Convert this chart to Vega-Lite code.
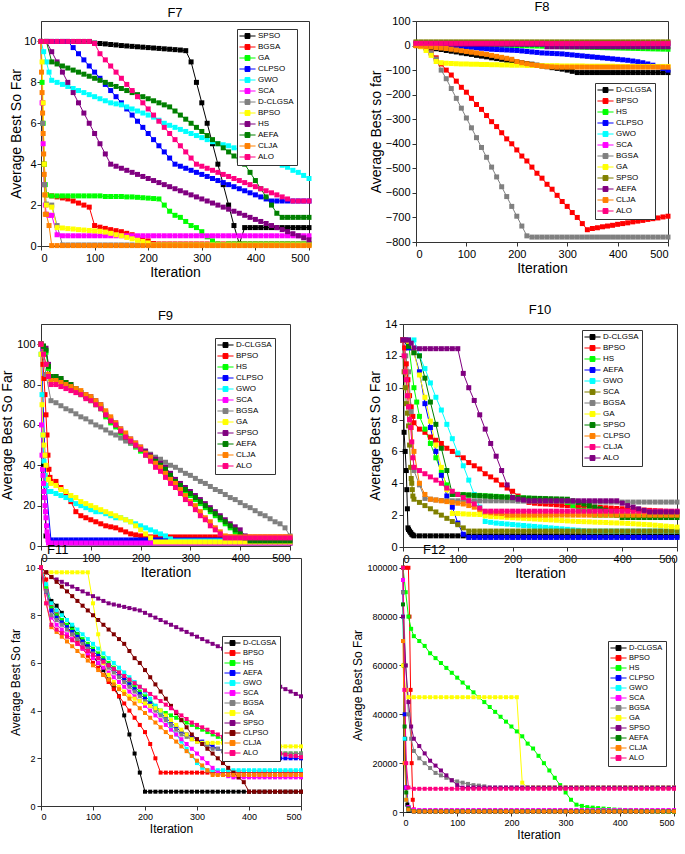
{
"$schema": "https://vega.github.io/schema/vega-lite/v6.json",
"background": "white",
"padding": 0,
"config": {
  "font": "Liberation Sans",
  "view": {"stroke": "#333", "strokeWidth": 1},
  "axis": {"labelFontSize": 11, "titleFontSize": 14, "titleFontWeight": "normal", "labelColor": "#000", "titleColor": "#000", "domainColor": "#333", "tickColor": "#333", "grid": false, "tickSize": 4, "labelPadding": 2, "titlePadding": 2, "labelFont": "Liberation Sans", "titleFont": "Liberation Sans"},
  "title": {"fontSize": 13, "fontWeight": "normal", "font": "Liberation Sans", "offset": 1},
  "legend": {"orient": "none", "title": null, "labelFontSize": 8, "labelFont": "Liberation Sans", "strokeColor": "#333", "fillColor": "#fff", "padding": 3, "rowPadding": 1, "symbolType": "M-1.3,0H3.3M0.3,-0.7H1.7V0.7H0.3Z", "symbolSize": 49, "symbolStrokeWidth": 1, "labelOffset": 10}
},
"spacing": 23,
"resolve": {"scale": {"color": "independent"}, "legend": {"color": "independent"}},
"vconcat": [
{
"spacing": 56,
"resolve": {"scale": {"color": "independent"}, "legend": {"color": "independent"}},
"hconcat": [
{
"title": "F7",
"width": 268, "height": 225,
"data": {"values": [
{"s":"SPSO","x":[0,10,20,30,40,50,60,70,80,90,100,110,120,130,140,150,160,170,180,190,200,210,220,230,240,250,260,270,280,290,300,310,320,330,340,350,360,370,380,390,400,410,420,430,440,450,460,470,480,490,500],"y":[10,10,10,10,10,10,10,10,10,10,9.92,9.9,9.88,9.85,9.83,9.8,9.78,9.76,9.74,9.72,9.7,9.68,9.66,9.64,9.62,9.6,9.58,9.55,9,8,7,6,5,4,3,2,1,0.1,0.9,0.9,0.9,0.9,0.9,0.9,0.9,0.9,0.9,0.9,0.9,0.9,0.9]},
{"s":"BGSA","x":[0,3,6,10,20,30,40,50,60,70,80,90,100,110,120,130,140,150,160,170,180,190,200,210,220,230,240,250,260,270,280,290,300,310,320,330,340,350,360,370,380,390,400,410,420,430,440,450,460,470,480,490,500],"y":[10,7,4,2.5,2.45,2.4,2.35,2.3,2.2,2.1,2.0,1.9,1.0,0.92,0.86,0.8,0.75,0.7,0.62,0.55,0.45,0.35,0.25,0.12,0.1,0.1,0.1,0.1,0.1,0.1,0.1,0.1,0.1,0.1,0.1,0.1,0.1,0.1,0.1,0.1,0.1,0.1,0.1,0.1,0.1,0.1,0.1,0.1,0.1,0.1,0.1,0.1,0.1]},
{"s":"GA","x":[0,2,4,6,8,10,20,30,40,50,60,70,80,90,100,110,120,130,140,150,160,170,180,190,200,210,220,230,240,250,260,270,280,290,300,310,320,330,340,350,360,370,380,390,400,410,420,430,440,450,460,470,480,490,500],"y":[10,8,6,4,3,2.5,2.45,2.45,2.45,2.45,2.45,2.45,2.45,2.45,2.45,2.45,2.42,2.42,2.42,2.42,2.4,2.4,2.38,2.36,2.34,2.32,2.3,2.0,1.7,1.5,1.4,1.2,1.0,0.9,0.7,0.45,0.25,0.1,0.05,0.1,0.1,0.1,0.1,0.1,0.1,0.1,0.1,0.1,0.1,0.1,0.1,0.1,0.1,0.1,0.1]},
{"s":"CLPSO","x":[0,10,20,30,40,50,60,70,80,90,100,110,120,130,140,150,160,170,180,190,200,210,220,230,240,250,260,270,280,290,300,310,320,330,340,350,360,370,380,390,400,410,420,430,440,450,460,470,480,490,500],"y":[10,10,10,10,10,10,9.7,9.4,9.1,8.8,8.5,8.2,7.9,7.6,7.3,7.0,6.7,6.4,6.1,5.8,5.5,5.2,4.9,4.6,4.3,4.0,3.9,3.8,3.7,3.6,3.5,3.4,3.3,3.2,3.1,3.0,2.9,2.8,2.7,2.6,2.5,2.4,2.3,2.2,2.2,2.2,2.2,2.2,2.2,2.2,2.2]},
{"s":"GWO","x":[0,5,10,15,20,30,40,50,60,70,80,90,100,110,120,130,140,150,160,170,180,190,200,210,220,230,240,250,260,270,280,290,300,310,320,330,340,350,360,370,380,390,400,410,420,430,440,450,460,470,480,490,500],"y":[10,9.5,9,8.5,8.1,8.0,7.9,7.8,7.7,7.6,7.5,7.4,7.3,7.2,7.1,7.0,6.95,6.9,6.8,6.7,6.6,6.5,6.4,6.3,6.15,6.0,5.9,5.8,5.7,5.6,5.5,5.4,5.3,5.2,5.1,5.0,4.95,4.9,4.8,4.7,4.6,4.5,4.45,4.35,4.25,4.15,4.05,3.95,3.85,3.7,3.6,3.45,3.3]},
{"s":"SCA","x":[0,2,4,6,8,10,15,20,30,40,50,60,70,80,90,100,110,120,130,140,150,160,170,180,190,200,210,220,230,240,250,260,270,280,290,300,310,320,330,340,350,360,370,380,390,400,410,420,430,440,450,460,470,480,490,500],"y":[10,7,5,3,2,1.55,1.5,1.5,0.55,0.5,0.5,0.5,0.5,0.5,0.5,0.5,0.5,0.5,0.5,0.5,0.5,0.5,0.5,0.5,0.5,0.5,0.5,0.5,0.5,0.5,0.5,0.5,0.5,0.5,0.5,0.5,0.5,0.5,0.5,0.5,0.5,0.5,0.5,0.5,0.5,0.5,0.5,0.5,0.5,0.5,0.5,0.5,0.5,0.5,0.5,0.5]},
{"s":"D-CLGSA","x":[0,3,6,10,20,30,40,50,60,70,80,90,100,110,120,130,140,150,160,170,180,190,200,210,220,230,240,250,260,270,280,290,300,310,320,330,340,350,360,370,380,390,400,410,420,430,440,450,460,470,480,490,500],"y":[10,6,3,2.05,2.0,1.0,0.05,0.05,0.05,0.05,0.05,0.05,0.05,0.05,0.05,0.05,0.05,0.05,0.05,0.05,0.05,0.05,0.05,0.05,0.05,0.05,0.05,0.05,0.05,0.05,0.05,0.05,0.05,0.05,0.05,0.05,0.05,0.05,0.05,0.05,0.05,0.05,0.05,0.05,0.05,0.05,0.05,0.05,0.05,0.05,0.05,0.05,0.05]},
{"s":"BPSO","x":[0,2,4,6,8,10,20,30,40,50,60,70,80,90,100,110,120,130,140,150,160,170,180,190,200,210,220,230,240,250,260,270,280,290,300,310,320,330,340,350,360,370,380,390,400,410,420,430,440,450,460,470,480,490,500],"y":[10,9,7,4,2.5,2.0,1.9,0.9,0.88,0.85,0.83,0.8,0.78,0.76,0.74,0.72,0.68,0.62,0.55,0.5,0.42,0.35,0.28,0.22,0.15,0.05,0.05,0.05,0.05,0.05,0.05,0.05,0.05,0.05,0.05,0.05,0.05,0.05,0.05,0.05,0.05,0.05,0.05,0.05,0.05,0.05,0.05,0.05,0.05,0.05,0.05,0.05,0.05,0.05,0.05]},
{"s":"HS","x":[0,10,20,30,40,50,60,70,80,90,100,110,120,130,140,150,160,170,180,190,200,210,220,230,240,250,260,270,280,290,300,310,320,330,340,350,360,370,380,390,400,410,420,430,440,450,460,470,480,490,500],"y":[10,10,9.5,9.0,8.5,8.0,7.5,7.0,6.5,6.0,5.5,5.0,4.5,4.0,3.9,3.8,3.7,3.6,3.5,3.4,3.3,3.2,3.1,3.0,2.9,2.8,2.7,2.6,2.5,2.4,2.3,2.2,2.1,2.0,1.9,1.8,1.7,1.6,1.5,1.4,1.3,1.2,1.1,1.0,0.9,0.8,0.7,0.6,0.5,0.4,0.3]},
{"s":"AEFA","x":[0,10,20,30,40,50,60,70,80,90,100,110,120,130,140,150,160,170,180,190,200,210,220,230,240,250,260,270,280,290,300,310,320,330,340,350,360,370,380,390,400,410,420,430,440,450,460,470,480,490,500],"y":[10,10,9.0,8.9,8.8,8.7,8.6,8.5,8.4,8.3,8.2,8.1,8.0,7.9,7.8,7.7,7.6,7.5,7.4,7.3,7.2,7.1,7.0,6.9,6.8,6.6,6.4,6.2,6.0,5.8,5.6,5.4,5.2,5.0,4.8,4.6,4.4,4.2,4.0,3.6,3.2,2.8,2.4,2.0,1.6,1.4,1.4,1.4,1.4,1.4,1.4]},
{"s":"CLJA","x":[0,1,2,3,4,5,6,7,8,10,15,20,30,40,50,60,70,80,90,100,110,120,130,140,150,160,170,180,190,200,210,220,230,240,250,260,270,280,290,300,310,320,330,340,350,360,370,380,390,400,410,420,430,440,450,460,470,480,490,500],"y":[10,8.5,7.5,6.5,5.5,4.5,3.5,2.5,1.55,1.55,1.0,0.02,0.02,0.02,0.02,0.02,0.02,0.02,0.02,0.02,0.02,0.02,0.02,0.02,0.02,0.02,0.02,0.02,0.02,0.02,0.02,0.02,0.02,0.02,0.02,0.02,0.02,0.02,0.02,0.02,0.02,0.02,0.02,0.02,0.02,0.02,0.02,0.02,0.02,0.02,0.02,0.02,0.02,0.02,0.02,0.02,0.02,0.02,0.02,0.02]},
{"s":"ALO","x":[0,10,20,30,40,50,60,70,80,90,100,110,120,130,140,150,160,170,180,190,200,210,220,230,240,250,260,270,280,290,300,310,320,330,340,350,360,370,380,390,400,410,420,430,440,450,460,470,480,490,500],"y":[10,10,10,10,10,10,10,10,10,10,9.9,9.4,9.1,8.8,8.5,8.2,7.9,7.6,7.3,7.0,6.7,6.4,6.1,5.8,5.5,5.2,4.9,4.6,4.3,4.0,3.9,3.8,3.7,3.6,3.5,3.4,3.3,3.2,3.1,3.0,2.9,2.8,2.7,2.6,2.5,2.4,2.3,2.2,2.2,2.2,2.2]}
]},
"transform": [{"flatten": ["x", "y"]}],
"mark": {"type": "line", "strokeWidth": 1, "point": {"shape": "square", "filled": true, "size": 25, "opacity": 1}},
"encoding": {
  "x": {"field": "x", "type": "quantitative", "scale": {"domain": [0, 500]}, "axis": {"title": "Iteration", "values": [0,100,200,300,400,500]}},
  "y": {"field": "y", "type": "quantitative", "scale": {"domain": [0, 11]}, "axis": {"title": "Average Best So Far", "titlePadding": 0, "labelPadding": 1, "values": [0,2,4,6,8,10]}},
  "color": {"field": "s", "type": "nominal", "scale": {"domain": ["SPSO","BGSA","GA","CLPSO","GWO","SCA","D-CLGSA","BPSO","HS","AEFA","CLJA","ALO"], "range": ["#000000","#ff0000","#00ff00","#0000ff","#00ffff","#ff00ff","#808080","#ffff00","#800080","#008000","#ff8000","#ff0080"]}, "legend": {"legendX": 196, "legendY": 8}}
}
},
{
"title": "F8",
"width": 252, "height": 221,
"data": {"values": [
{"s":"D-CLGSA","x":[0,10,20,30,40,50,60,70,80,90,100,110,120,130,140,150,160,170,180,190,200,210,220,230,240,250,260,270,280,290,300,310,320,330,340,350,360,370,380,390,400,410,420,430,440,450,460,470,480,490,500],"y":[0,-3,-6,-10,-13,-16,-20,-23,-26,-30,-33,-36,-40,-43,-46,-50,-53,-56,-60,-63,-66,-70,-73,-76,-80,-83,-86,-90,-93,-96,-100,-105,-110,-110,-110,-110,-110,-110,-110,-110,-110,-110,-110,-110,-110,-110,-110,-110,-110,-110,-110]},
{"s":"BPSO","x":[0,10,20,30,40,50,60,70,80,90,100,110,120,130,140,150,160,170,180,190,200,210,220,230,240,250,260,270,280,290,300,310,320,330,340,350,360,370,380,390,400,410,420,430,440,450,460,470,480,490,500],"y":[0,-3,-10,-30,-50,-75,-100,-120,-145,-170,-190,-215,-240,-260,-285,-310,-330,-355,-380,-400,-425,-450,-470,-495,-520,-540,-565,-585,-610,-635,-655,-680,-700,-725,-750,-745,-742,-738,-735,-732,-728,-725,-722,-718,-715,-712,-708,-705,-702,-698,-695]},
{"s":"HS","x":[0,10,20,30,40,50,60,70,80,90,100,110,120,130,140,150,160,170,180,190,200,210,220,230,240,250,260,270,280,290,300,310,320,330,340,350,360,370,380,390,400,410,420,430,440,450,460,470,480,490,500],"y":[10,9.5,9,8.5,8,7.5,7,6.5,6,5.5,5,4.5,4,3.5,3,2.5,2,1.5,1,0.5,0,-0.5,-1,-1.5,-2,-2.5,-3,-3.5,-4,-4.5,-5,-5.5,-6,-6.5,-7,-7.5,-8,-8.5,-9,-9.5,-10,-10.5,-11,-11.5,-12,-12.5,-13,-13.5,-14,-14.5,-15]},
{"s":"CLPSO","x":[0,10,20,30,40,50,60,70,80,90,100,110,120,130,140,150,160,170,180,190,200,210,220,230,240,250,260,270,280,290,300,310,320,330,340,350,360,370,380,390,400,410,420,430,440,450,460,470,480,490,500],"y":[5,4,3,2,1,0,-1,-2,-3,-4,-5,-7,-9,-11,-13,-15,-16,-17,-18,-19,-20,-22,-24,-26,-28,-30,-31,-32,-33,-34,-36,-38,-40,-42,-44,-46,-48,-50,-52,-54,-56,-58,-60,-63,-66,-70,-75,-80,-86,-93,-100]},
{"s":"GWO","x":[0,10,20,30,40,50,60,70,80,90,100,110,120,130,140,150,160,170,180,190,200,210,220,230,240,250,260,270,280,290,300,310,320,330,340,350,360,370,380,390,400,410,420,430,440,450,460,470,480,490,500],"y":[10,10,10,10,10,10,10,10,10,10,10,10,10,10,10,10,10,10,10,10,10,10,10,10,10,10,8,8,8,8,8,8,8,8,8,8,8,8,8,8,8,8,8,8,8,8,8,8,8,8,8]},
{"s":"SCA","x":[0,10,20,30,40,50,60,70,80,90,100,110,120,130,140,150,160,170,180,190,200,210,220,230,240,250,260,270,280,290,300,310,320,330,340,350,360,370,380,390,400,410,420,430,440,450,460,470,480,490,500],"y":[12,12,12,12,12,12,12,12,12,12,12,12,12,12,12,12,12,12,12,12,12,12,12,12,12,12,12,12,12,12,12,12,12,12,12,12,12,12,12,12,12,12,12,12,12,12,12,12,12,12,12]},
{"s":"BGSA","x":[0,10,20,30,40,50,60,70,80,90,100,110,120,130,140,150,160,170,180,190,200,210,220,230,240,250,260,270,280,290,300,310,320,330,340,350,360,370,380,390,400,410,420,430,440,450,460,470,480,490,500],"y":[0,-3,-10,-30,-55,-100,-135,-175,-215,-255,-295,-335,-375,-415,-455,-495,-535,-575,-615,-655,-695,-735,-775,-780,-780,-780,-780,-780,-780,-780,-780,-780,-780,-780,-780,-780,-780,-780,-780,-780,-780,-780,-780,-780,-780,-780,-780,-780,-780,-780,-780]},
{"s":"GA","x":[0,10,20,30,40,50,60,70,80,90,100,110,120,130,140,150,160,170,180,190,200,210,220,230,240,250,260,270,280,290,300,310,320,330,340,350,360,370,380,390,400,410,420,430,440,450,460,470,480,490,500],"y":[0,-5,-20,-40,-65,-70,-72,-73,-74,-75,-75,-76,-76,-77,-77,-78,-78,-79,-79,-80,-80,-80,-81,-81,-81,-82,-82,-82,-82,-83,-83,-83,-83,-83,-84,-84,-84,-84,-84,-84,-85,-85,-85,-85,-85,-85,-85,-85,-85,-85,-85]},
{"s":"SPSO","x":[0,10,20,30,40,50,60,70,80,90,100,110,120,130,140,150,160,170,180,190,200,210,220,230,240,250,260,270,280,290,300,310,320,330,340,350,360,370,380,390,400,410,420,430,440,450,460,470,480,490,500],"y":[15,15,15,15,15,15,15,15,15,15,15,15,15,15,15,15,15,15,15,15,15,15,15,15,15,15,15,15,15,15,15,15,15,15,15,15,15,15,15,15,15,15,15,15,15,15,15,15,15,15,15]},
{"s":"AEFA","x":[0,10,20,30,40,50,60,70,80,90,100,110,120,130,140,150,160,170,180,190,200,210,220,230,240,250,260,270,280,290,300,310,320,330,340,350,360,370,380,390,400,410,420,430,440,450,460,470,480,490,500],"y":[5,5,5,5,5,5,5,5,5,5,5,5,5,5,5,5,5,5,5,5,5,5,5,5,5,5,-5,-5,-5,-5,-5,-5,-5,-5,-5,-5,-5,-5,-5,-5,-5,-5,-5,-5,-5,-5,-5,-5,-5,-5,-5]},
{"s":"CLJA","x":[0,10,20,30,40,50,60,70,80,90,100,110,120,130,140,150,160,170,180,190,200,210,220,230,240,250,260,270,280,290,300,310,320,330,340,350,360,370,380,390,400,410,420,430,440,450,460,470,480,490,500],"y":[0,-2,-4,-6,-8,-10,-12,-15,-18,-21,-24,-27,-30,-33,-36,-40,-44,-48,-52,-56,-65,-70,-74,-78,-81,-84,-86,-87,-88,-88,-88,-88,-88,-88,-88,-88,-88,-88,-88,-88,-88,-88,-88,-88,-88,-88,-88,-88,-88,-88,-88]},
{"s":"ALO","x":[0,10,20,30,40,50,60,70,80,90,100,110,120,130,140,150,160,170,180,190,200,210,220,230,240,250,260,270,280,290,300,310,320,330,340,350,360,370,380,390,400,410,420,430,440,450,460,470,480,490,500],"y":[9,9,9,9,9,9,9,9,9,9,9,9,9,9,9,9,9,9,9,9,9,9,9,9,9,9,8,8,8,8,8,8,8,8,8,8,8,8,8,8,8,8,8,8,8,8,8,8,8,8,8]}
]},
"transform": [{"flatten": ["x", "y"]}],
"mark": {"type": "line", "strokeWidth": 1, "point": {"shape": "square", "filled": true, "size": 25, "opacity": 1}},
"encoding": {
  "x": {"field": "x", "type": "quantitative", "scale": {"domain": [0, 500]}, "axis": {"title": "Iteration", "values": [0,100,200,300,400,500]}},
  "y": {"field": "y", "type": "quantitative", "scale": {"domain": [-800, 100]}, "axis": {"title": "Average Best so far", "values": [-800,-700,-600,-500,-400,-300,-200,-100,0,100]}},
  "color": {"field": "s", "type": "nominal", "scale": {"domain": ["D-CLGSA","BPSO","HS","CLPSO","GWO","SCA","BGSA","GA","SPSO","AEFA","CLJA","ALO"], "range": ["#000000","#ff0000","#00ff00","#0000ff","#00ffff","#ff00ff","#808080","#ffff00","#808000","#800080","#ff8000","#ff0080"]}, "legend": {"legendX": 179, "legendY": 62}}
}
}
]
},
{
"columns": 2,
"bounds": "flush",
"spacing": {"row": 11, "column": 102},
"resolve": {"scale": {"color": "independent"}, "legend": {"color": "independent"}},
"concat": [
{
"title": "F9",
"width": 249, "height": 222,
"data": {"values": [
{"s":"D-CLGSA","x":[0,5,10,15,20,30,40,50,60,70,80,90,100,110,120,130,140,150,160,170,180,190,200,210,220,230,240,250,260,270,280,290,300,310,320,330,340,350,360,370,380,390,400,410,420,430,440,450,460,470,480,490,500],"y":[100,40,5,2,1.5,1.5,1.5,1.5,1.5,1.5,1.5,1.5,1.5,1.5,1.5,1.5,1.5,1.5,1.5,1.5,1.5,1.5,1.5,1.5,1.5,1.5,1.5,1.5,1.5,1.5,1.5,1.5,1.5,1.5,1.5,1.5,1.5,1.5,1.5,1.5,1.5,1.5,1.5,1.5,1.5,1.5,1.5,1.5,1.5,1.5,1.5,1.5,1.5]},
{"s":"BPSO","x":[0,2,4,6,8,10,12,14,16,18,20,30,40,50,60,70,80,90,100,110,120,130,140,150,160,170,180,190,200,210,220,230,240,250,260,270,280,290,300,310,320,330,340,350,360,370,380,390,400,410,420,430,440,450,460,470,480,490,500],"y":[100,95,90,83,75,65,55,45,38,34,32,32,29,26,22,17,15,14,13,12,11,10,9.5,9,8,7,6,5.5,5,4.5,4.5,4.5,4.5,4.5,4.5,4.5,4.5,4.5,4.5,4.5,4.5,4.5,4.5,4.5,4.5,4.5,4.5,4.5,4.5,4.5,4.5,4.5,4.5,4.5,4.5,4.5,4.5,4.5,4.5]},
{"s":"HS","x":[0,5,10,15,20,30,40,50,60,70,80,90,100,110,120,130,140,150,160,170,180,190,200,210,220,230,240,250,260,270,280,290,300,310,320,330,340,350,360,370,380,390,400,410,420,430,440,450,460,470,480,490,500],"y":[100,99,96,88,83,83,82,80,79,77,75,74,72,70,68,64,61,59,56,53,51,49,47,45,43,41,39,37,34,31,29,27,25,23,21,19,17,15,13,11,9,7,5,3,2.5,2.5,2.5,2.5,2.5,2.5,2.5,2.5,2.5]},
{"s":"CLPSO","x":[0,10,20,30,40,50,60,70,80,90,100,110,120,130,140,150,160,170,180,190,200,210,220,230,240,250,260,270,280,290,300,310,320,330,340,350,360,370,380,390,400,410,420,430,440,450,460,470,480,490,500],"y":[100,30,3,3,3,3,3,3,3,3,3,3,3,3,3,3,3,3,3,3,3,3,3,3,3,3,3,3,3,3,3,3,3,3,3,3,3,3,3,3,3,3,3,3,3,3,3,3,3,3,3]},
{"s":"GWO","x":[0,2,4,6,8,10,15,20,30,40,50,60,70,80,90,100,110,120,130,140,150,160,170,180,190,200,210,220,230,240,250,260,270,280,290,300,310,320,330,340,350,360,370,380,390,400,410,420,430,440,450,460,470,480,490,500],"y":[95,75,55,42,35,30,27,27,26,25,24,23,21,20,19,18,17,17,16,15,14,14,13,12,11,10,9,8,7,6,5,3.5,2.5,2.5,2.5,2.5,2.5,2.5,2.5,2.5,2.5,2.5,2.5,2.5,2.5,2.5,2.5,2.5,2.5,2.5,2.5,2.5,2.5,2.5,2.5,2.5]},
{"s":"SCA","x":[0,1,2,3,4,5,6,7,8,9,10,11,12,13,14,15,20,30,40,50,60,70,80,90,100,110,120,130,140,150,160,170,180,190,200,210,220,230,240,250,260,270,280,290,300,310,320,330,340,350,360,370,380,390,400,410,420,430,440,450,460,470,480,490,500],"y":[100,60,45,38,35,31,27,24,20,17,14,10,7,5,3,1.5,1.5,1.5,1.5,1.5,1.5,1.5,1.5,1.5,1.5,1.5,1.5,1.5,1.5,1.5,1.5,1.5,1.5,1.5,1.5,1.5,1.5,1.5,1.5,1.5,1.5,1.5,1.5,1.5,1.5,1.5,1.5,1.5,1.5,1.5,1.5,1.5,1.5,1.5,1.5,1.5,1.5,1.5,1.5,1.5,1.5,1.5,1.5,1.5,1.5]},
{"s":"BGSA","x":[0,10,20,30,40,50,60,70,80,90,100,110,120,130,140,150,160,170,180,190,200,210,220,230,240,250,260,270,280,290,300,310,320,330,340,350,360,370,380,390,400,410,420,430,440,450,460,470,480,490,500],"y":[100,85,72,71,69.5,68,67,65.5,64,63,61.5,60,59,57.5,56,55,53.5,52,51,49.5,48,47,45.5,44,43,41.5,40,39,37.5,36,35,33.5,32,31,29.5,28,27,25.5,24,23,21.5,20,19,17.5,16,15,13.5,12,11,9,5]},
{"s":"GA","x":[0,2,4,6,8,10,15,20,30,40,50,60,70,80,90,100,110,120,130,140,150,160,170,180,190,200,210,220,230,240,250,260,270,280,290,300,310,320,330,340,350,360,370,380,390,400,410,420,430,440,450,460,470,480,490,500],"y":[95,70,55,50,45,40,33,31,30,28,27,25,24,22,21,20,19,18,17,16,15,14,13,12,10,8,6,4,2,2,2,2,2,2,2,2,2,2,2,2,2,2,2,2,2,2,2,2,2,2,2,2,2,2,2,2]},
{"s":"SPSO","x":[0,5,10,15,20,30,40,50,60,70,80,90,100,110,120,130,140,150,160,170,180,190,200,210,220,230,240,250,260,270,280,290,300,310,320,330,340,350,360,370,380,390,400,410,420,430,440,450,460,470,480,490,500],"y":[100,99,98,90,84,84,83,81,80,78,76,75,74,72,70,66,63,61,58,55,53,51,49,47,45,43,41,39,36,33,31,29,27,25,23,21,19,17,15,13,11,9.5,8,5,3,3,3,3,3,3,3,3,3]},
{"s":"AEFA","x":[0,5,10,15,20,30,40,50,60,70,80,90,100,110,120,130,140,150,160,170,180,190,200,210,220,230,240,250,260,270,280,290,300,310,320,330,340,350,360,370,380,390,400,410,420,430,440,450,460,470,480,490,500],"y":[100,99,97,89,84,84,83,81,80,78,76,74,73,71,69,65,62,60,57,54,52,50,48,46,44,42,40,38,35,32,30,28,26,24,22,20,18,16,14,12,10,8,6,4,2.5,2.5,2.5,2.5,2.5,2.5,2.5,2.5,2.5]},
{"s":"CLJA","x":[0,5,10,15,20,30,40,50,60,70,80,90,100,110,120,130,140,150,160,170,180,190,200,210,220,230,240,250,260,270,280,290,300,310,320,330,340,350,360,370,380,390,400,410,420,430,440,450,460,470,480,490,500],"y":[100,95,90,85,82,82,81,80,79,78,77,75,74,72,70,67,64,61,58,56,53,51,49,46,44,41,39,36,33,31,28,25,22,20,17,14,12,9,7,5,4.5,4.5,4.5,4.5,4.5,4.5,4.5,4.5,4.5,4.5,4.5,4.5,4.5]},
{"s":"ALO","x":[0,5,10,15,20,30,40,50,60,70,80,90,100,110,120,130,140,150,160,170,180,190,200,210,220,230,240,250,260,270,280,290,300,310,320,330,340,350,360,370,380,390,400,410,420,430,440,450,460,470,480,490,500],"y":[100,95,90,84,80,80,79,78,77,76,75,73,72,70,68,65,62,60,57,54,52,50,48,45,42,39,37,34,31,29,26,23,21,18,15,13,10,8,6,4,4,4,4,4,4,4,4,4,4,4,4,4,4]}
]},
"transform": [{"flatten": ["x", "y"]}],
"mark": {"type": "line", "strokeWidth": 1, "point": {"shape": "square", "filled": true, "size": 25, "opacity": 1}},
"encoding": {
  "x": {"field": "x", "type": "quantitative", "scale": {"domain": [0, 500]}, "axis": {"title": "Iteration", "values": [0,100,200,300,400,500]}},
  "y": {"field": "y", "type": "quantitative", "scale": {"domain": [0, 110]}, "axis": {"title": "Average Best So Far", "values": [0,20,40,60,80,100]}},
  "color": {"field": "s", "type": "nominal", "scale": {"domain": ["D-CLGSA","BPSO","HS","CLPSO","GWO","SCA","BGSA","GA","SPSO","AEFA","CLJA","ALO"], "range": ["#000000","#ff0000","#00ff00","#0000ff","#00ffff","#ff00ff","#808080","#ffff00","#800080","#008000","#ff8000","#ff0080"]}, "legend": {"legendX": 174, "legendY": 14}}
}
},
{
"title": "F10",
"width": 274, "height": 223,
"data": {"values": [
{"s":"D-CLGSA","x":[0,2,4,6,7,8,9,10,12,14,16,18,20,30,40,50,60,70,80,90,100,110,120,130,140,150,160,170,180,190,200,210,220,230,240,250,260,270,280,290,300,310,320,330,340,350,360,370,380,390,400,410,420,430,440,450,460,470,480,490,500],"y":[13,7.2,6.0,4.8,3.6,2.4,1.2,1.1,1.0,0.9,0.8,0.75,0.7,0.7,0.7,0.7,0.7,0.7,0.7,0.7,0.7,0.7,0.7,0.7,0.7,0.7,0.7,0.7,0.7,0.7,0.7,0.7,0.7,0.7,0.7,0.7,0.7,0.7,0.7,0.7,0.7,0.7,0.7,0.7,0.7,0.7,0.7,0.7,0.7,0.7,0.7,0.7,0.7,0.7,0.7,0.7,0.7,0.7,0.7,0.7,0.7]},
{"s":"BPSO","x":[0,3,6,9,12,15,18,20,30,40,50,60,70,80,90,100,110,120,130,140,150,160,170,180,190,200,210,220,230,240,250,260,270,280,290,300,310,320,330,340,350,360,370,380,390,400,410,420,430,440,450,460,470,480,490,500],"y":[13,12.5,11.5,10.5,9.5,8.8,8.2,7.8,7.4,7.2,6.9,6.7,6.5,6.2,6.0,5.8,5.6,5.3,5.1,4.9,4.6,4.4,4.2,3.9,3.7,3.5,3.2,3.0,2.8,2.75,2.72,2.7,2.68,2.65,2.62,2.6,2.58,2.56,2.54,2.52,2.5,2.48,2.46,2.44,2.42,2.4,2.38,2.36,2.34,2.32,2.3,2.28,2.26,2.24,2.22,2.2]},
{"s":"HS","x":[0,10,20,25,30,40,50,60,70,80,90,100,110,120,130,140,150,160,170,180,190,200,210,220,230,240,250,260,270,280,290,300,310,320,330,340,350,360,370,380,390,400,410,420,430,440,450,460,470,480,490,500],"y":[13,12.8,10.0,9.1,8.2,7.4,6.5,5.6,4.7,3.9,3.3,3.3,3.28,3.26,3.25,3.24,3.22,3.2,3.18,3.16,3.14,3.12,3.1,3.08,3.06,3.04,3.02,3.0,2.98,2.96,2.94,2.8,2.6,2.3,2.3,2.3,2.0,2.0,2.0,2.0,2.0,2.0,2.0,2.0,2.0,2.0,2.0,2.0,2.0,2.0,2.0,2.0]},
{"s":"AEFA","x":[0,10,20,30,40,50,60,70,80,90,100,110,120,130,140,150,160,170,180,190,200,210,220,230,240,250,260,270,280,290,300,310,320,330,340,350,360,370,380,390,400,410,420,430,440,450,460,470,480,490,500],"y":[13,12.5,12.2,11,9,7.5,6,4.5,3.2,2.5,1.5,0.8,0.6,0.6,0.6,0.6,0.6,0.6,0.6,0.6,0.6,0.6,0.6,0.6,0.6,0.6,0.6,0.6,0.6,0.6,0.6,0.6,0.6,0.6,0.6,0.6,0.6,0.6,0.6,0.6,0.6,0.6,0.6,0.6,0.6,0.6,0.6,0.6,0.6,0.6,0.6]},
{"s":"GWO","x":[0,10,20,30,40,50,60,70,80,90,100,110,120,130,140,150,160,170,180,190,200,210,220,230,240,250,260,270,280,290,300,310,320,330,340,350,360,370,380,390,400,410,420,430,440,450,460,470,480,490,500],"y":[13,13,13,12,11.2,10.3,9.4,8.6,7.7,6.8,5.9,5.1,4.2,3.3,2.5,1.6,1.55,1.5,1.47,1.44,1.41,1.38,1.35,1.32,1.29,1.26,1.23,1.2,1.17,1.14,1.11,1.08,1.05,1.02,1.0,1.0,1.0,1.0,1.0,1.0,1.0,1.0,1.0,1.0,1.0,1.0,1.0,1.0,1.0,1.0,1.0]},
{"s":"SCA","x":[0,2,4,6,8,10,12,14,15,16,17,18,20,30,40,50,60,70,80,90,100,110,120,130,140,150,160,170,180,190,200,210,220,230,240,250,260,270,280,290,300,310,320,330,340,350,360,370,380,390,400,410,420,430,440,450,460,470,480,490,500],"y":[13,11,10,9,8.4,7.6,6.4,5.0,4.3,4.0,3.6,3.2,3.0,2.8,2.6,2.4,2.2,2.0,1.8,1.6,1.4,1.2,1.0,1.0,1.0,1.0,1.0,1.0,1.0,1.0,1.0,1.0,1.0,1.0,1.0,1.0,1.0,1.0,1.0,1.0,1.0,1.0,1.0,1.0,1.0,1.0,1.0,1.0,1.0,1.0,1.0,1.0,1.0,1.0,1.0,1.0,1.0,1.0,1.0,1.0,1.0]},
{"s":"BGSA","x":[0,5,10,15,20,30,40,50,60,70,80,90,100,110,120,130,140,150,160,170,180,190,200,210,220,230,240,250,260,270,280,290,300,310,320,330,340,350,360,370,380,390,400,410,420,430,440,450,460,470,480,490,500],"y":[13,12,11,8.5,4.8,3.9,3.05,3.0,2.95,2.92,2.9,2.9,2.9,2.9,2.9,2.9,2.9,2.9,2.9,2.9,2.9,2.9,2.9,2.88,2.88,2.88,2.88,2.88,2.88,2.88,2.88,2.88,2.88,2.82,2.82,2.82,2.82,2.82,2.82,2.82,2.82,2.82,2.82,2.82,2.82,2.82,2.82,2.82,2.82,2.82,2.82,2.82,2.82]},
{"s":"GA","x":[0,10,20,30,40,50,60,70,80,90,100,110,120,130,140,150,160,170,180,190,200,210,220,230,240,250,260,270,280,290,300,310,320,330,340,350,360,370,380,390,400,410,420,430,440,450,460,470,480,490,500],"y":[13,12.8,12.2,10.8,9.4,7.9,6.4,5.0,3.6,2.1,2.1,2.08,2.06,2.05,2.04,1.95,1.92,1.9,1.88,1.86,1.84,1.82,1.8,1.78,1.76,1.74,1.72,1.7,1.68,1.66,1.64,1.62,1.6,1.59,1.58,1.56,1.55,1.54,1.52,1.51,1.5,1.48,1.46,1.44,1.42,1.4,1.37,1.34,1.31,1.28,1.25]},
{"s":"SPSO","x":[0,10,20,30,40,50,60,70,80,90,100,110,120,130,140,150,160,170,180,190,200,210,220,230,240,250,260,270,280,290,300,310,320,330,340,350,360,370,380,390,400,410,420,430,440,450,460,470,480,490,500],"y":[13,12.6,12.2,12.0,10.6,9.1,7.7,6.2,4.8,3.3,3.3,3.28,3.26,3.24,3.22,3.2,3.18,3.16,3.14,3.12,3.1,3.09,3.08,3.07,3.06,3.05,3.04,3.03,3.02,3.01,3.0,2.9,2.8,2.7,2.6,2.5,2.4,2.3,2.2,2.0,1.85,1.85,1.85,1.85,1.85,1.85,1.85,1.85,1.85,1.85,1.85]},
{"s":"CLPSO","x":[0,5,10,15,20,30,40,50,60,70,80,90,100,110,120,130,140,150,160,170,180,190,200,210,220,230,240,250,260,270,280,290,300,310,320,330,340,350,360,370,380,390,400,410,420,430,440,450,460,470,480,490,500],"y":[13,11,9.5,7.5,6,4,3.3,3.0,2.95,2.9,2.85,2.8,2.75,2.7,2.6,2.5,2.35,2.2,2.15,2.12,2.1,2.0,2.0,2.0,2.0,2.0,2.0,2.0,2.0,2.0,2.0,2.0,2.0,2.0,2.0,2.0,2.0,2.0,2.0,2.0,2.0,2.0,2.0,2.0,2.0,2.0,2.0,2.0,2.0,2.0,2.0,2.0,2.0]},
{"s":"CLJA","x":[0,2,4,6,8,10,12,14,16,18,20,30,40,50,60,70,80,90,100,110,120,130,140,150,160,170,180,190,200,210,220,230,240,250,260,270,280,290,300,310,320,330,340,350,360,370,380,390,400,410,420,430,440,450,460,470,480,490,500],"y":[13,12,11,10.5,9.5,8.8,8,7.5,6.6,5.6,5.0,4.8,4.6,4.4,4.2,4.0,3.7,3.5,3.3,3.1,2.9,2.7,2.45,2.25,2.25,2.25,2.25,2.25,2.25,2.25,2.25,2.25,2.25,2.25,2.25,2.25,2.25,2.25,2.25,2.25,2.25,2.25,2.25,2.25,2.25,2.25,2.25,2.25,2.25,2.25,2.25,2.25,2.25,2.25,2.25,2.25,2.25,2.25,2.25]},
{"s":"ALO","x":[0,5,10,15,20,30,40,50,60,70,80,90,100,110,120,130,140,150,160,170,180,190,200,210,220,230,240,250,260,270,280,290,300,310,320,330,340,350,360,370,380,390,400,410,420,430,440,450,460,470,480,490,500],"y":[13,13,13,12.8,12.5,12.45,12.45,12.45,12.45,12.45,12.45,12.45,12.45,10.9,10.0,9.2,8.3,7.4,6.5,5.7,4.8,3.9,3.1,3.0,2.95,2.9,2.9,2.9,2.9,2.9,2.9,2.9,2.9,2.9,2.9,2.9,2.9,2.9,2.9,2.9,2.9,2.9,2.75,2.6,2.5,2.4,2.3,2.2,2.2,2.2,2.2,2.2,2.2]}
]},
"transform": [{"flatten": ["x", "y"]}],
"mark": {"type": "line", "strokeWidth": 1, "point": {"shape": "square", "filled": true, "size": 25, "opacity": 1}},
"encoding": {
  "x": {"field": "x", "type": "quantitative", "scale": {"domain": [0, 500]}, "axis": {"title": "Iteration", "values": [0,100,200,300,400,500]}},
  "y": {"field": "y", "type": "quantitative", "scale": {"domain": [0, 14]}, "axis": {"title": "Average Best So Far", "values": [0,2,4,6,8,10,12,14]}},
  "color": {"field": "s", "type": "nominal", "scale": {"domain": ["D-CLGSA","BPSO","HS","AEFA","GWO","SCA","BGSA","GA","SPSO","CLPSO","CLJA","ALO"], "range": ["#000000","#ff0000","#00ff00","#0000ff","#00ffff","#808000","#808080","#ffff00","#008000","#ff8000","#ff0080","#800080"]}, "legend": {"legendX": 179, "legendY": 6}}
}
},
{
"title": {"text": "F11", "anchor": "start", "frame": "group", "dx": 6},
"width": 260, "height": 248,
"data": {"values": [
{"s":"D-CLGSA","x":[0,10,20,30,40,50,60,70,80,90,100,110,120,130,140,150,160,170,180,190,200,210,220,230,240,250,260,270,280,290,300,310,320,330,340,350,360,370,380,390,400,410,420,430,440,450,460,470,480,490,500],"y":[10,9,8.6,8.4,8.1,7.8,7.5,7.2,6.9,6.6,6.3,6.0,5.7,5.3,5.0,4.6,3.8,3.0,2.2,1.4,0.6,0.6,0.6,0.6,0.6,0.6,0.6,0.6,0.6,0.6,0.6,0.6,0.6,0.6,0.6,0.6,0.6,0.6,0.6,0.6,0.6,0.6,0.6,0.6,0.6,0.6,0.6,0.6,0.6,0.6,0.6]},
{"s":"BPSO","x":[0,10,20,30,40,50,60,70,80,90,100,110,120,130,140,150,160,170,180,190,200,210,220,230,240,250,260,270,280,290,300,310,320,330,340,350,360,370,380,390,400,410,420,430,440,450,460,470,480,490,500],"y":[10,9.5,8.4,8.1,7.8,7.5,7.2,6.9,6.6,6.3,6.0,5.8,5.5,5.2,4.9,4.6,4.3,4.0,3.7,3.4,3.1,2.6,2.0,1.4,1.4,1.4,1.4,1.4,1.4,1.4,1.4,1.4,1.4,1.4,1.4,1.4,1.4,1.4,1.4,1.4,1.4,1.4,1.4,1.4,1.4,1.4,1.4,1.4,1.4,1.4,1.4]},
{"s":"HS","x":[0,10,20,30,40,50,60,70,80,90,100,110,120,130,140,150,160,170,180,190,200,210,220,230,240,250,260,270,280,290,300,310,320,330,340,350,360,370,380,390,400,410,420,430,440,450,460,470,480,490,500],"y":[10,9.2,8.3,8.0,7.8,7.6,7.4,7.2,7.0,6.8,6.6,6.4,6.2,6.0,5.8,5.6,5.4,5.2,5.0,4.8,4.6,4.4,4.2,4.0,3.9,3.8,3.7,3.6,3.5,3.4,3.3,3.2,3.1,3.0,2.9,2.8,2.7,2.6,2.5,2.4,2.35,2.3,2.25,2.2,2.2,2.2,2.2,2.2,2.2,2.2,2.2]},
{"s":"AEFA","x":[0,10,20,30,40,50,60,70,80,90,100,110,120,130,140,150,160,170,180,190,200,210,220,230,240,250,260,270,280,290,300,310,320,330,340,350,360,370,380,390,400,410,420,430,440,450,460,470,480,490,500],"y":[10,9.0,8.2,7.9,7.7,7.5,7.3,7.1,6.9,6.7,6.5,6.3,6.1,5.9,5.7,5.5,5.3,5.1,4.9,4.7,4.5,4.3,4.1,3.9,3.7,3.5,3.3,3.1,3.0,2.9,2.8,2.7,2.6,2.5,2.4,2.3,2.2,2.1,2.05,2.0,2.0,2.0,2.0,2.0,2.0,2.0,2.0,2.0,2.0,2.0,2.0]},
{"s":"GWO","x":[0,10,20,30,40,50,60,70,80,90,100,110,120,130,140,150,160,170,180,190,200,210,220,230,240,250,260,270,280,290,300,310,320,330,340,350,360,370,380,390,400,410,420,430,440,450,460,470,480,490,500],"y":[10,9.3,8.5,8.2,8.0,7.8,7.6,7.4,7.2,7.0,6.8,6.6,6.4,6.2,6.0,5.8,5.6,5.4,5.2,5.0,4.8,4.5,4.2,3.9,3.6,3.3,3.0,2.7,2.4,2.1,1.8,1.6,1.5,1.5,1.5,1.5,1.5,1.5,1.5,1.5,1.5,1.5,1.5,1.5,1.5,1.5,1.5,1.5,1.5,1.5,1.5]},
{"s":"SCA","x":[0,10,20,30,40,50,60,70,80,90,100,110,120,130,140,150,160,170,180,190,200,210,220,230,240,250,260,270,280,290,300,310,320,330,340,350,360,370,380,390,400,410,420,430,440,450,460,470,480,490,500],"y":[10,9.0,7.9,7.6,7.4,7.2,7.0,6.8,6.6,6.4,6.2,6.0,5.8,5.6,5.4,5.2,5.0,4.8,4.6,4.4,4.2,4.0,3.8,3.6,3.4,3.2,3.0,2.8,2.6,2.4,2.2,2.0,1.8,1.6,1.4,1.3,1.25,1.2,1.2,1.2,1.2,1.2,1.2,1.2,1.2,1.2,1.2,1.2,1.2,1.2,1.2]},
{"s":"BGSA","x":[0,10,20,30,40,50,60,70,80,90,100,110,120,130,140,150,160,170,180,190,200,210,220,230,240,250,260,270,280,290,300,310,320,330,340,350,360,370,380,390,400,410,420,430,440,450,460,470,480,490,500],"y":[10,9.0,8.0,7.8,7.6,7.4,7.2,7.0,6.8,6.6,6.4,6.2,6.0,5.8,5.6,5.4,5.2,5.0,4.8,4.6,4.4,4.2,4.0,3.8,3.6,3.4,3.2,3.0,2.9,2.8,2.7,2.6,2.5,2.4,2.4,2.3,2.3,2.3,2.2,2.2,2.2,2.2,2.2,2.2,2.2,2.2,2.2,2.2,2.2,2.2,2.2]},
{"s":"GA","x":[0,10,20,30,40,50,60,70,80,90,100,110,120,130,140,150,160,170,180,190,200,210,220,230,240,250,260,270,280,290,300,310,320,330,340,350,360,370,380,390,400,410,420,430,440,450,460,470,480,490,500],"y":[10,9.8,9.8,9.8,9.8,9.8,9.8,9.8,9.8,9.8,8.5,7.2,6.0,5.5,5.2,5.0,4.8,4.6,4.5,4.4,4.3,4.2,4.1,4.0,3.8,3.6,3.4,3.2,3.0,2.8,2.7,2.65,2.65,2.65,2.65,2.65,2.65,2.65,2.65,2.65,2.65,2.5,2.5,2.5,2.5,2.5,2.5,2.5,2.5,2.5,2.5]},
{"s":"SPSO","x":[0,10,20,30,40,50,60,70,80,90,100,110,120,130,140,150,160,170,180,190,200,210,220,230,240,250,260,270,280,290,300,310,320,330,340,350,360,370,380,390,400,410,420,430,440,450,460,470,480,490,500],"y":[10,9.8,9.6,9.5,9.4,9.3,9.2,9.1,9.0,8.9,8.8,8.7,8.6,8.5,8.45,8.4,8.35,8.3,8.25,8.2,8.1,8.0,7.9,7.8,7.7,7.6,7.5,7.4,7.3,7.2,7.1,7.0,6.9,6.8,6.7,6.6,6.5,6.4,6.3,6.2,6.0,5.8,5.6,5.4,5.2,5.1,5.0,4.9,4.8,4.7,4.6]},
{"s":"CLPSO","x":[0,10,20,30,40,50,60,70,80,90,100,110,120,130,140,150,160,170,180,190,200,210,220,230,240,250,260,270,280,290,300,310,320,330,340,350,360,370,380,390,400,410,420,430,440,450,460,470,480,490,500],"y":[10,9.8,9.6,9.4,9.2,9.0,8.8,8.6,8.4,8.2,8.0,7.8,7.6,7.4,7.2,7.0,6.8,6.5,6.2,6.0,5.7,5.4,5.1,4.8,4.5,4.2,3.9,3.6,3.3,3.0,2.8,2.6,2.4,2.2,2.0,1.8,1.6,1.4,1.2,1.0,0.6,0.6,0.6,0.6,0.6,0.6,0.6,0.6,0.6,0.6,0.6]},
{"s":"CLJA","x":[0,10,20,30,40,50,60,70,80,90,100,110,120,130,140,150,160,170,180,190,200,210,220,230,240,250,260,270,280,290,300,310,320,330,340,350,360,370,380,390,400,410,420,430,440,450,460,470,480,490,500],"y":[10,8.5,7.5,7.3,7.1,6.9,6.7,6.5,6.3,6.1,5.9,5.7,5.5,5.3,5.1,4.9,4.7,4.5,4.3,4.1,3.9,3.7,3.5,3.3,3.1,2.9,2.7,2.5,2.3,2.1,1.9,1.7,1.5,1.3,1.3,1.3,1.3,1.3,1.3,1.3,1.3,1.3,1.3,1.3,1.3,1.3,1.3,1.3,1.3,1.3,1.3]},
{"s":"ALO","x":[0,10,20,30,40,50,60,70,80,90,100,110,120,130,140,150,160,170,180,190,200,210,220,230,240,250,260,270,280,290,300,310,320,330,340,350,360,370,380,390,400,410,420,430,440,450,460,470,480,490,500],"y":[10,8.5,7.6,7.4,7.25,7.1,6.95,6.8,6.65,6.5,6.35,6.2,6.05,5.9,5.75,5.6,5.45,5.3,5.15,5.0,4.85,4.7,4.55,4.4,4.25,4.1,3.95,3.8,3.65,3.5,3.4,3.3,3.2,3.1,3.0,2.9,2.8,2.7,2.6,2.5,2.45,2.4,2.35,2.3,2.25,2.2,2.2,2.15,2.1,2.1,2.05]}
]},
"transform": [{"flatten": ["x", "y"]}],
"mark": {"type": "line", "strokeWidth": 1, "point": {"shape": "square", "filled": true, "size": 16, "opacity": 1}},
"encoding": {
  "x": {"field": "x", "type": "quantitative", "scale": {"domain": [0, 500]}, "axis": {"title": "Iteration", "titleFontSize": 12, "labelFontSize": 9, "values": [0,100,200,300,400,500]}},
  "y": {"field": "y", "type": "quantitative", "scale": {"domain": [0, 10.4]}, "axis": {"title": "Average Best So far", "titleFontSize": 12, "labelFontSize": 9, "values": [0,2,4,6,8,10]}},
  "color": {"field": "s", "type": "nominal", "scale": {"domain": ["D-CLGSA","BPSO","HS","AEFA","GWO","SCA","BGSA","GA","SPSO","CLPSO","CLJA","ALO"], "range": ["#000000","#ff0000","#00ff00","#0000ff","#00ffff","#ff00ff","#808080","#ffff00","#800080","#800000","#ff8000","#ff0080"]}, "legend": {"legendX": 181, "legendY": 78, "rowPadding": 0, "labelFontSize": 7.5}}
}
},
{
"title": {"text": "F12", "anchor": "start", "frame": "group", "dx": 20},
"width": 271, "height": 254,
"data": {"values": [
{"s":"D-CLGSA","x":[0,2,4,6,8,10,20,30,40,50,60,70,80,90,100,110,120,130,140,150,160,170,180,190,200,210,220,230,240,250,260,270,280,290,300,310,320,330,340,350,360,370,380,390,400,410,420,430,440,450,460,470,480,490,500],"y":[100000,60000,30000,10000,3000,500,200,200,200,200,200,200,200,200,200,200,200,200,200,200,200,200,200,200,200,200,200,200,200,200,200,200,200,200,200,200,200,200,200,200,200,200,200,200,200,200,200,200,200,200,200,200,200,200,200]},
{"s":"BPSO","x":[0,5,10,12,14,16,18,20,30,40,50,60,70,80,90,100,110,120,130,140,150,160,170,180,190,200,210,220,230,240,250,260,270,280,290,300,310,320,330,340,350,360,370,380,390,400,410,420,430,440,450,460,470,480,490,500],"y":[100000,100000,100000,80000,50000,20000,5000,1000,500,500,500,500,500,500,500,500,500,500,500,500,500,500,500,500,500,500,500,500,500,500,500,500,500,500,500,500,500,500,500,500,500,500,500,500,500,500,500,500,500,500,500,500,500,500,500,500]},
{"s":"HS","x":[0,5,10,15,20,30,40,50,60,70,80,90,100,110,120,130,140,150,160,170,180,190,200,210,220,230,240,250,260,270,280,290,300,310,320,330,340,350,360,370,380,390,400,410,420,430,440,450,460,470,480,490,500],"y":[100000,90000,80000,75000,72000,70000,68000,65000,63000,61000,59000,57000,55000,53000,51000,49000,47000,45000,43000,41000,39000,37000,35000,33000,31000,28000,26000,23000,20000,17000,14000,11000,8000,5000,3000,2500,2000,1800,1600,1400,1200,1000,900,800,700,600,500,400,300,200,150,100,50]},
{"s":"CLPSO","x":[0,3,6,10,20,30,40,50,60,70,80,90,100,110,120,130,140,150,160,170,180,190,200,210,220,230,240,250,260,270,280,290,300,310,320,330,340,350,360,370,380,390,400,410,420,430,440,450,460,470,480,490,500],"y":[90000,40000,10000,2000,500,300,300,300,300,300,300,300,300,300,300,300,300,300,300,300,300,300,300,300,300,300,300,300,300,300,300,300,300,300,300,300,300,300,300,300,300,300,300,300,300,300,300,300,300,300,300,300,300]},
{"s":"GWO","x":[0,3,6,10,20,30,40,50,60,70,80,90,100,110,120,130,140,150,160,170,180,190,200,210,220,230,240,250,260,270,280,290,300,310,320,330,340,350,360,370,380,390,400,410,420,430,440,450,460,470,480,490,500],"y":[80000,30000,5000,1000,500,400,400,400,400,400,400,400,400,400,400,400,400,400,400,400,400,400,400,400,400,400,400,400,400,400,400,400,400,400,400,400,400,400,400,400,400,400,400,400,400,400,400,400,400,400,400,400,400]},
{"s":"SCA","x":[0,3,6,10,20,30,40,50,60,70,80,90,100,110,120,130,140,150,160,170,180,190,200,210,220,230,240,250,260,270,280,290,300,310,320,330,340,350,360,370,380,390,400,410,420,430,440,450,460,470,480,490,500],"y":[95000,50000,10000,2000,1000,800,800,800,800,800,800,800,800,800,800,800,800,800,800,800,800,800,800,800,800,800,800,800,800,800,800,800,800,800,800,800,800,800,800,800,800,800,800,800,800,800,800,800,800,800,800,800,800]},
{"s":"BGSA","x":[0,5,10,15,20,30,40,50,60,70,80,90,100,110,120,130,140,150,160,170,180,190,200,210,220,230,240,250,260,270,280,290,300,310,320,330,340,350,360,370,380,390,400,410,420,430,440,450,460,470,480,490,500],"y":[90000,60000,40000,30000,25000,22000,20000,18000,16000,15000,14000,13000,12500,12000,11500,11000,10800,10500,10000,10000,10000,10000,10000,10000,10000,10000,10000,10000,10000,10000,10000,10000,10000,10000,10000,10000,10000,10000,10000,10000,10000,10000,10000,10000,10000,10000,10000,10000,10000,10000,10000,10000,10000]},
{"s":"GA","x":[0,5,10,20,30,40,50,60,70,80,90,100,110,120,130,140,150,160,170,180,190,200,210,220,230,240,250,260,270,280,290,300,310,320,330,340,350,360,370,380,390,400,410,420,430,440,450,460,470,480,490,500],"y":[60000,50000,47000,47000,47000,47000,47000,47000,47000,47000,47000,47000,47000,47000,47000,47000,47000,47000,47000,47000,47000,47000,47000,12000,10000,10000,10000,10000,10000,10000,10000,10000,10000,10000,10000,10000,10000,10000,10000,10000,10000,10000,10000,10000,10000,10000,10000,10000,10000,10000,10000,10000]},
{"s":"SPSO","x":[0,5,10,15,20,30,40,50,60,70,80,90,100,110,120,130,140,150,160,170,180,190,200,210,220,230,240,250,260,270,280,290,300,310,320,330,340,350,360,370,380,390,400,410,420,430,440,450,460,470,480,490,500],"y":[80000,60000,45000,35000,30000,27000,24000,21000,19000,17000,15000,13000,11000,10000,10000,10000,10000,10000,10000,10000,10000,10000,10000,10000,10000,10000,10000,10000,10000,10000,10000,10000,10000,10000,10000,10000,10000,10000,10000,10000,10000,10000,10000,10000,10000,10000,10000,10000,10000,10000,10000,10000,10000]},
{"s":"AEFA","x":[0,3,6,10,20,30,40,50,60,70,80,90,100,110,120,130,140,150,160,170,180,190,200,210,220,230,240,250,260,270,280,290,300,310,320,330,340,350,360,370,380,390,400,410,420,430,440,450,460,470,480,490,500],"y":[85000,35000,8000,1500,400,300,300,300,300,300,300,300,300,300,300,300,300,300,300,300,300,300,300,300,300,300,300,300,300,300,300,300,300,300,300,300,300,300,300,300,300,300,300,300,300,300,300,300,300,300,300,300,300]},
{"s":"CLJA","x":[0,3,6,10,20,30,40,50,60,70,80,90,100,110,120,130,140,150,160,170,180,190,200,210,220,230,240,250,260,270,280,290,300,310,320,330,340,350,360,370,380,390,400,410,420,430,440,450,460,470,480,490,500],"y":[70000,20000,5000,1000,300,200,200,200,200,200,200,200,200,200,200,200,200,200,200,200,200,200,200,200,200,200,200,200,200,200,200,200,200,200,200,200,200,200,200,200,200,200,200,200,200,200,200,200,200,200,200,200,200]},
{"s":"ALO","x":[0,3,6,10,20,30,40,50,60,70,80,90,100,110,120,130,140,150,160,170,180,190,200,210,220,230,240,250,260,270,280,290,300,310,320,330,340,350,360,370,380,390,400,410,420,430,440,450,460,470,480,490,500],"y":[100000,50000,20000,10000,9500,9500,9500,9500,9500,9500,9500,9500,9500,9500,9500,9500,9500,9500,9500,9500,9500,9500,9500,9500,9500,9500,9500,9500,9500,9500,9500,9500,9500,9500,9500,9500,9500,9500,9500,9500,9500,9500,9500,9500,9500,9500,9500,9500,9500,9500,9500,9500,9500]}
]},
"transform": [{"flatten": ["x", "y"]}],
"mark": {"type": "line", "strokeWidth": 1, "point": {"shape": "square", "filled": true, "size": 16, "opacity": 1}},
"encoding": {
  "x": {"field": "x", "type": "quantitative", "scale": {"domain": [0, 500]}, "axis": {"title": "Iteration", "titleFontSize": 12, "labelFontSize": 9, "values": [0,100,200,300,400,500]}},
  "y": {"field": "y", "type": "quantitative", "scale": {"domain": [0, 104000]}, "axis": {"title": "Average Best So Far", "titleFontSize": 12, "labelFontSize": 9, "format": "d", "values": [0,20000,40000,60000,80000,100000]}},
  "color": {"field": "s", "type": "nominal", "scale": {"domain": ["D-CLGSA","BPSO","HS","CLPSO","GWO","SCA","BGSA","GA","SPSO","AEFA","CLJA","ALO"], "range": ["#000000","#ff0000","#00ff00","#0000ff","#00ffff","#ff00ff","#808080","#ffff00","#800080","#008000","#ff8000","#ff0080"]}, "legend": {"legendX": 205, "legendY": 83, "rowPadding": 0, "labelFontSize": 7.5}}
}
}
]
}
]
}
